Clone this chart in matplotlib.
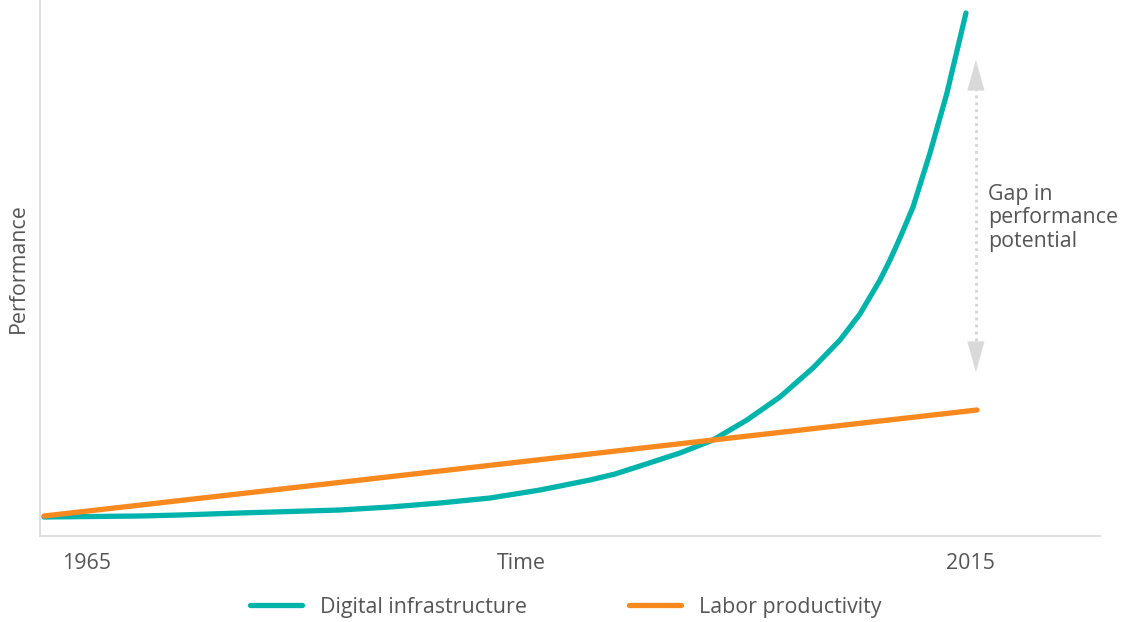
import matplotlib
matplotlib.use("Agg")
import matplotlib.pyplot as plt

plt.rcParams['font.family'] = ['Open Sans', 'DejaVu Sans']

# data (x in years, y in arbitrary performance units)
digital_years = [1965.0, 1970.21, 1972.38, 1975.63, 1978.34, 1981.05, 1983.76,
                 1986.47, 1989.19, 1991.90, 1994.61, 1995.97, 1997.32, 1999.49,
                 2001.28, 2003.12, 2004.91, 2006.70, 2008.17, 2009.25, 2010.34,
                 2010.88, 2011.42, 2012.13, 2013.05, 2013.97, 2015.0]
digital_perf = [19, 20, 21, 23, 24.5, 26, 29, 33, 38, 46, 56, 62, 70, 83, 96,
                116, 139, 168, 196, 222, 256, 276, 298, 329, 383, 443, 523]
labor_years = [1965.0, 2015.6]
labor_perf = [20, 126]

tick_pos = [1967.33, 1990.87, 2015.22]
tick_labels = ["1965", "Time", "2015"]

teal = "#00b3ab"
orange = "#f7891f"
grey_text = "#555555"
grey_line = "#d9d9d9"

fig = plt.figure(figsize=(11.22, 6.22), dpi=100)
ax = fig.add_axes([40 / 1122, 86 / 622, 1060 / 1122, 536 / 622])

ax.plot(digital_years, digital_perf, color=teal, lw=3.8,
        solid_capstyle="round", solid_joinstyle="round", clip_on=False,
        label="Digital infrastructure")
ax.plot(labor_years, labor_perf, color=orange, lw=3.8,
        solid_capstyle="round", clip_on=False, label="Labor productivity")

ax.set_xlim(1964.78, 2022.27)
ax.set_ylim(0, 536)

# gap arrow
gx = 2015.54
ax.plot([gx, gx], [448, 191], color="#d4d4d4", lw=2, ls=(0, (1, 1.5)))
for tip, base in [(476, 448), (164, 191)]:
    ax.annotate("", xy=(gx, tip), xytext=(gx, base),
                arrowprops=dict(arrowstyle="-|>,head_length=1.6,head_width=0.45",
                                color="#d9d9d9", lw=0.5,
                                shrinkA=0, shrinkB=0, mutation_scale=13))
ax.text(2016.19, 318, "Gap in\nperformance\npotential", fontsize=15.4,
        color=grey_text, va="center", ha="left", linespacing=1.17)

for s in ["top", "right"]:
    ax.spines[s].set_visible(False)
for s in ["left", "bottom"]:
    ax.spines[s].set_color(grey_line)
    ax.spines[s].set_linewidth(1.2)

ax.set_yticks([])
ax.set_xticks(tick_pos)
ax.set_xticklabels(tick_labels, fontsize=15.4, color=grey_text)
ax.tick_params(axis="x", length=0, pad=12)
ax.set_ylabel("Performance", fontsize=15.4, color=grey_text, labelpad=8)

fig.legend(loc="center", bbox_to_anchor=(0.5045, 0.024), ncol=2, frameon=False,
           fontsize=15.4, labelcolor=grey_text, handlelength=2.43,
           handletextpad=0.84, columnspacing=4.77)

fig.savefig("out.png", dpi=100)
